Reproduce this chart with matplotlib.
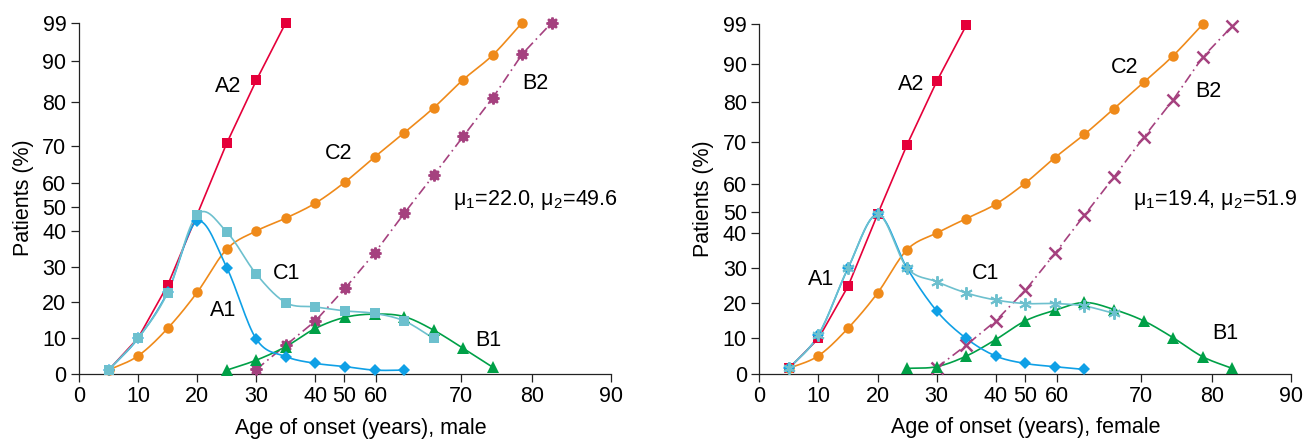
import numpy as np
import matplotlib as mpl
import matplotlib.pyplot as plt

mpl.rcParams['font.family'] = ['Liberation Sans', 'DejaVu Sans']
mpl.rcParams['mathtext.fontset'] = 'custom'
mpl.rcParams['mathtext.rm'] = 'Liberation Sans'
mpl.rcParams['mathtext.it'] = 'Liberation Sans'

# onset age groups (years), one every 5
age = [5, 10, 15, 20, 25, 30, 35, 40, 45, 50, 55, 60, 65, 70, 75, 80]

# --- male ---
male_a2 = [1.0, 10.0, 24.8, 44.6, 64.6, 82.2, 98.4]
male_a1 = [1.0, 9.9, 22.9, 42.7, 29.7, 9.7, 4.8, 2.9, 2.0, 1.0, 1.0]
male_c1 = [1.0, 10.0, 22.7, 44.6, 39.7, 27.9, 19.9, 18.7, 17.6, 16.9, 14.8, 9.9]
male_c2 = [1.0, 5.0, 12.7, 22.8, 34.9, 40.0, 43.6, 47.8, 53.7, 60.7, 67.5, 74.5,
           82.4, 89.3, 98.4]
male_b2 = [1.2, 8.0, 14.8, 23.9, 33.8, 44.9, 55.6, 66.5, 77.3, 89.6, 98.4]
male_b1 = [1.0, 3.8, 7.6, 12.7, 15.8, 16.7, 16.0, 12.2, 7.1, 1.8]

# --- female ---
female_a2 = [1.5, 10.0, 24.8, 45.2, 65.0, 82.9, 98.8]
female_a1 = [1.5, 11.0, 29.9, 45.2, 29.9, 17.8, 10.0, 5.0, 2.9, 2.0, 1.2]
female_c1 = [1.5, 11.0, 30.0, 45.2, 30.0, 26.1, 22.9, 20.9, 19.9, 19.9, 19.2, 17.1]
female_c2 = [1.5, 5.1, 12.9, 22.9, 35.2, 39.9, 44.0, 48.1, 54.1, 61.3, 67.9, 75.2,
             82.6, 90.2, 99.1]
female_b2 = [1.7, 8.1, 15.0, 23.7, 34.1, 45.0, 55.8, 67.0, 77.7, 89.8, 98.6]
female_b1 = [1.5, 2.0, 5.0, 9.7, 15.0, 18.0, 20.2, 18.2, 15.0, 10.2, 4.8, 1.5]

# tick labels and where they sit on the (linear) drawing axis
x_tick_labels = [0, 10, 20, 30, 40, 50, 60, 70, 80, 90]
x_tick_pos = [0, 10, 20, 30, 40, 44.9, 50.3, 64.6, 76.6, 90]
y_tick_labels = [0, 10, 20, 30, 40, 50, 60, 70, 80, 90, 99]
male_y_tick_pos = [0, 10, 20, 30, 40, 46.7, 53.3, 63.8, 76.0, 87.7, 98.4]
female_y_tick_pos = [0, 10, 20, 30, 40, 46.0, 53.9, 65.7, 77.0, 87.7, 99.1]

RED = '#E5003A'
BLUE = '#0FA0E6'
TEAL = '#6DC0CE'
ORANGE = '#EF8A1A'
PURPLE = '#A5417F'
GREEN = '#00A047'

FS = 15.5


def smooth(x, y, n=16):
    # Catmull-Rom spline through the points (Excel style smoothed line)
    x = np.asarray(x, float)
    y = np.asarray(y, float)
    if len(x) < 3:
        return x, y
    px = np.concatenate([[2*x[0] - x[1]], x, [2*x[-1] - x[-2]]])
    py = np.concatenate([[2*y[0] - y[1]], y, [2*y[-1] - y[-2]]])
    t = np.linspace(0, 1, n, endpoint=False)[:, None]
    segs_x, segs_y = [], []
    for i in range(1, len(px) - 2):
        for p, segs in ((px, segs_x), (py, segs_y)):
            p0, p1, p2, p3 = p[i-1], p[i], p[i+1], p[i+2]
            seg = 0.5*((2*p1) + (-p0 + p2)*t + (2*p0 - 5*p1 + 4*p2 - p3)*t**2
                       + (-p0 + 3*p1 - 3*p2 + p3)*t**3)
            segs.append(seg.ravel())
    sx = np.concatenate(segs_x + [[x[-1]]])
    sy = np.concatenate(segs_y + [[y[-1]]])
    return sx, sy


def series(ax, x, y, color, marker, ms, smooth_line=True, ls='-', mew=0.0):
    if smooth_line:
        sx, sy = smooth(x, y)
    else:
        sx, sy = x, y
    ax.plot(sx, sy, color=color, lw=1.2, ls=ls, clip_on=False, zorder=2)
    ax.plot(x, y, ls='none', marker=marker, ms=ms, color=color,
            mfc=color, mec=color, mew=mew, clip_on=False, zorder=3)


def setup(ax, ytop, ytick_pos, xlabel, xlabel_x=0.5):
    ax.set_xlim(0, 90)
    ax.set_ylim(0, ytop)
    ax.spines['top'].set_visible(False)
    ax.spines['right'].set_visible(False)
    for s in ('left', 'bottom'):
        ax.spines[s].set_linewidth(0.9)
        ax.spines[s].set_color('#222222')
    ax.set_xticks(x_tick_pos, [str(v) for v in x_tick_labels])
    ax.set_yticks(ytick_pos, [str(v) for v in y_tick_labels])
    ax.tick_params(direction='out', length=5.5, width=0.9, labelsize=FS, pad=3.5,
                   color='#222222')
    ax.set_xlabel(xlabel, fontsize=FS)
    ax.xaxis.set_label_coords(xlabel_x, -0.125)
    ax.set_ylabel('Patients (%)', fontsize=FS, labelpad=6)


fig = plt.figure(figsize=(13.14, 4.41), dpi=100)
ax1 = fig.add_axes([0.0601, 0.1526, 0.4049, 0.7963])
ax2 = fig.add_axes([0.5779, 0.1526, 0.4049, 0.7923])

n = len

# male panel
series(ax1, age[:n(male_a2)], male_a2, RED, 's', 6.5, smooth_line=False)
series(ax1, age[:n(male_c2)], male_c2, ORANGE, 'o', 7.5)
series(ax1, age[5:5+n(male_b2)], male_b2, PURPLE, (8, 1, 0), 8.5,
       smooth_line=False, ls=(0, (6, 2.5, 1, 2.5)), mew=1.6)
series(ax1, age[4:4+n(male_b1)], male_b1, GREEN, '^', 8)
series(ax1, age[:n(male_a1)], male_a1, BLUE, 'D', 6.5)
series(ax1, age[:n(male_c1)], male_c1, TEAL, 's', 7.5)
setup(ax1, 98.4, male_y_tick_pos, 'Age of onset (years), male', xlabel_x=0.53)

ax1.text(25.2, 80.5, 'A2', fontsize=FS, ha='center', va='center')
ax1.text(24.3, 17.8, 'A1', fontsize=FS, ha='center', va='center')
ax1.text(35.2, 28.2, 'C1', fontsize=FS, ha='center', va='center')
ax1.text(44.0, 61.7, 'C2', fontsize=FS, ha='center', va='center')
ax1.text(77.2, 81.3, 'B2', fontsize=FS, ha='center', va='center')
ax1.text(69.2, 9.4, 'B1', fontsize=FS, ha='center', va='center')
ax1.text(63.3, 48.8, 'μ$_1$=22.0, μ$_2$=49.6', fontsize=FS,
         ha='left', va='center')

# female panel
series(ax2, age[:n(female_a2)], female_a2, RED, 's', 6.5, smooth_line=False)
series(ax2, age[:n(female_c2)], female_c2, ORANGE, 'o', 7.5)
series(ax2, age[5:5+n(female_b2)], female_b2, PURPLE, 'x', 8,
       smooth_line=False, ls=(0, (6, 2.5, 1, 2.5)), mew=1.8)
series(ax2, age[4:4+n(female_b1)], female_b1, GREEN, '^', 8)
series(ax2, age[:n(female_a1)], female_a1, BLUE, 'D', 6.5)
series(ax2, age[:n(female_c1)], female_c1, TEAL, (6, 2, 0), 9, mew=1.4)
setup(ax2, 99.1, female_y_tick_pos, 'Age of onset (years), female')

ax2.text(25.7, 82.0, 'A2', fontsize=FS, ha='center', va='center')
ax2.text(10.4, 26.6, 'A1', fontsize=FS, ha='center', va='center')
ax2.text(38.3, 28.5, 'C1', fontsize=FS, ha='center', va='center')
ax2.text(61.8, 86.8, 'C2', fontsize=FS, ha='center', va='center')
ax2.text(75.9, 79.9, 'B2', fontsize=FS, ha='center', va='center')
ax2.text(78.8, 11.5, 'B1', fontsize=FS, ha='center', va='center')
ax2.text(63.2, 49.2, 'μ$_1$=19.4, μ$_2$=51.9', fontsize=FS,
         ha='left', va='center')

fig.savefig('out.png', dpi=100)
